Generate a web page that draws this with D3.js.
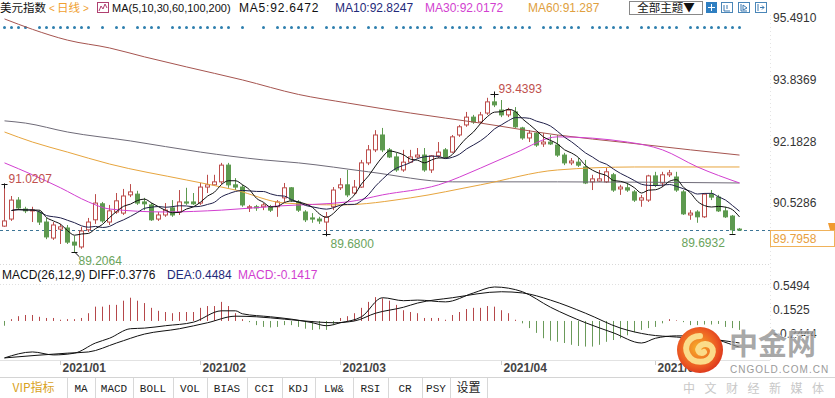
<!DOCTYPE html>
<html><head><meta charset="utf-8">
<script src="https://cdn.jsdelivr.net/npm/d3@7"></script>
<style>
body{margin:0;background:#fff;}
svg{display:block;font-family:"Liberation Sans",Arial,sans-serif;}
</style>
</head><body>
<svg id="c" width="835" height="398"></svg>
<script>
// ---------------- DATA ----------------
const firstDay = "2020-12-21";
const holidays = ["2020-12-25", "2021-01-01"];
const monthLabels = ["2021/01", "2021/02", "2021/03", "2021/04", "2021/05"];
const priceTicks = [95.4910, 93.8369, 92.1828, 90.5286];
const lastPrice = 89.7958;
const macdTicks = [0.5494, 0.1525, -0.2444];

const open = [
89.90, 90.09, 90.60, 90.36, 90.31, 90.28, 90.01, 89.58, 89.82, 89.85,
89.47, 89.34, 89.80, 90.07, 90.50, 90.01, 90.28, 90.25, 90.74, 90.76,
90.55, 90.47, 90.09, 90.20, 90.39, 90.28, 90.55, 90.55, 90.52, 90.95,
91.01, 91.09, 91.54, 91.01, 90.95, 90.39, 90.42, 90.42, 90.42, 90.42,
90.66, 90.93, 90.55, 90.28, 90.12, 90.09, 90.01, 90.42, 90.93, 91.01,
90.79, 90.95, 91.60, 91.95, 92.35, 91.95, 91.76, 91.41, 91.62, 91.76,
91.81, 91.41, 91.79, 91.95, 91.89, 92.35, 92.62, 92.83, 92.70, 92.94,
93.24, 93.02, 92.89, 92.97, 92.54, 92.27, 92.40, 92.11, 92.16, 92.08,
91.81, 91.60, 91.62, 91.49, 91.09, 91.11, 91.09, 91.28, 90.90, 90.93,
90.82, 90.60, 90.60, 91.25, 91.06, 91.28, 91.22, 90.82, 90.20, 90.28,
90.15, 90.76, 90.68, 90.31, 90.17, 89.82];
const high = [
91.0207, 90.71, 90.68, 90.42, 90.42, 90.33, 90.12, 90.01, 89.96, 89.93,
89.64, 89.88, 90.12, 90.76, 90.55, 90.47, 90.79, 90.90, 91.03, 90.85,
90.66, 90.52, 90.28, 90.52, 90.60, 90.87, 90.93, 90.79, 91.06, 91.28,
91.28, 91.60, 91.60, 91.19, 91.01, 90.47, 90.47, 90.52, 90.47, 90.60,
91.06, 90.95, 90.60, 90.33, 90.25, 90.15, 90.28, 90.95, 91.19, 91.41,
91.14, 91.68, 92.08, 92.48, 92.54, 92.00, 91.87, 91.95, 91.95, 92.00,
92.00, 91.81, 92.16, 92.00, 92.35, 92.62, 92.97, 92.89, 92.97, 93.35,
93.4393, 93.29, 93.08, 93.10, 92.57, 92.48, 92.43, 92.40, 92.35, 92.35,
91.87, 91.73, 91.73, 91.68, 91.28, 91.41, 91.46, 91.33, 91.01, 91.06,
90.87, 90.74, 91.28, 91.36, 91.36, 91.41, 91.36, 90.87, 90.33, 90.33,
90.79, 90.87, 90.74, 90.42, 90.20, 89.85];
const low = [
89.88, 90.04, 90.33, 90.25, 90.01, 89.93, 89.55, 89.53, 89.42, 89.42,
89.2064, 89.29, 89.74, 89.96, 89.99, 89.93, 90.23, 90.20, 90.68, 90.47,
90.33, 90.04, 90.04, 90.15, 90.15, 90.20, 90.47, 90.47, 90.47, 90.79,
90.98, 91.03, 90.93, 90.87, 90.42, 90.28, 90.31, 90.33, 90.28, 90.15,
90.55, 90.55, 90.28, 90.01, 89.99, 89.96, 89.68, 90.33, 90.87, 90.68,
90.74, 90.93, 91.54, 91.89, 91.89, 91.73, 91.36, 91.36, 91.60, 91.73,
91.36, 91.33, 91.73, 91.73, 91.87, 92.30, 92.57, 92.65, 92.67, 92.89,
93.10, 92.83, 92.83, 92.54, 92.22, 92.16, 92.03, 92.03, 92.08, 91.76,
91.54, 91.54, 91.49, 91.03, 90.87, 91.09, 91.06, 90.82, 90.74, 90.82,
90.55, 90.42, 90.55, 90.95, 90.95, 91.22, 90.82, 90.20, 90.07, 89.99,
90.12, 90.60, 90.28, 90.12, 89.6932, 89.77];
const close = [
90.04, 90.60, 90.39, 90.31, 90.33, 90.01, 89.61, 89.93, 89.88, 89.47,
89.39, 89.77, 90.01, 90.52, 90.04, 90.31, 90.58, 90.71, 90.82, 90.52,
90.50, 90.07, 90.20, 90.33, 90.20, 90.55, 90.52, 90.50, 90.95, 91.01,
91.09, 91.54, 91.01, 90.95, 90.47, 90.42, 90.39, 90.47, 90.33, 90.55,
90.93, 90.60, 90.33, 90.07, 90.09, 90.04, 90.15, 90.87, 91.01, 90.74,
90.95, 91.60, 91.95, 92.35, 91.95, 91.76, 91.41, 91.62, 91.76, 91.81,
91.41, 91.79, 91.89, 91.76, 92.30, 92.57, 92.83, 92.70, 92.89, 93.24,
93.16, 92.89, 93.02, 92.57, 92.27, 92.40, 92.08, 92.16, 92.11, 91.81,
91.60, 91.65, 91.54, 91.06, 91.17, 91.17, 91.36, 90.87, 90.95, 90.87,
90.60, 90.66, 91.25, 91.01, 91.28, 91.33, 90.87, 90.23, 90.25, 90.15,
90.76, 90.68, 90.31, 90.15, 89.80, 89.7958];

// long moving averages: [bar index, value]
const ma200 = [[0,95.47],[4,95.19],[9,94.90],[15,94.69],[20,94.45],[26,94.18],[34,93.83],[42,93.44],[49,93.21],[58,92.94],[68,92.67],[79,92.35],[89,92.14],[98,91.95],[105,91.81]];
const ma100 = [[0,92.73],[3,92.67],[9,92.43],[18,92.19],[28,91.89],[37,91.68],[42,91.60],[52,91.36],[64,91.09],[79,91.09],[105,91.06]];
const ma60 = [[0,92.43],[4,92.16],[9,91.89],[15,91.57],[26,91.14],[33,90.87],[40,90.52],[48,90.47],[58,90.66],[68,91.01],[79,91.41],[90,91.49],[105,91.49]];
const ma30 = [[0,91.60],[4,91.28],[8,90.93],[12,90.55],[15,90.36],[23,90.28],[31,90.33],[39,90.44],[49,90.55],[54,90.74],[62,91.01],[68,91.46],[73,91.87],[79,92.30],[89,92.16],[94,91.95],[99,91.49],[105,91.06]];

// MACD panel
const macdHist = [
-0.08, 0.03, 0.08, 0.10, 0.10, 0.07, 0.05, 0.05, 0.02, 0.03,
0.03, 0.05, 0.13, 0.24, 0.24, 0.27, 0.27, 0.34, 0.39, 0.34,
0.30, 0.22, 0.17, 0.15, 0.13, 0.15, 0.15, 0.15, 0.22, 0.25,
0.25, 0.32, 0.25, 0.13, 0.03, -0.02, -0.07, -0.10, -0.11, -0.10,
-0.07, -0.07, -0.10, -0.13, -0.15, -0.14, -0.15, -0.07, 0.05, 0.08,
0.13, 0.22, 0.32, 0.40, 0.38, 0.34, 0.27, 0.18, 0.15, 0.13,
0.05, 0.05, 0.05, 0.02, 0.10, 0.15, 0.20, 0.22, 0.22, 0.25,
0.24, 0.18, 0.13, 0.02, -0.04, -0.12, -0.20, -0.29, -0.33, -0.35,
-0.37, -0.40, -0.42, -0.43, -0.43, -0.40, -0.35, -0.32, -0.29, -0.24,
-0.19, -0.15, -0.12, -0.10, -0.04, 0.03, 0.01, -0.02, -0.07, -0.07,
-0.06, -0.06, -0.05, -0.10, -0.12, -0.15];
const diffLine = [[0,-0.62],[4,-0.52],[7,-0.57],[10,-0.54],[13,-0.37],[15,-0.29],[18,-0.13],[20,-0.12],[23,-0.08],[27,-0.02],[31,0.17],[33,0.17],[34,0.12],[38,0.07],[41,0.03],[44,-0.03],[46,-0.08],[48,-0.03],[51,0.07],[54,0.39],[57,0.34],[59,0.35],[63,0.32],[67,0.47],[70,0.57],[72,0.55],[74,0.49],[78,0.23],[83,-0.03],[87,-0.20],[91,-0.37],[93,-0.29],[96,-0.25],[99,-0.25],[104,-0.40],[105,-0.44]];
const deaLine = [[0,-0.62],[9,-0.54],[12,-0.52],[16,-0.37],[20,-0.22],[25,-0.13],[29,-0.03],[33,0.08],[36,0.07],[40,0.03],[45,-0.02],[47,-0.03],[50,0.00],[53,0.13],[57,0.23],[59,0.30],[64,0.39],[71,0.49],[74,0.47],[78,0.35],[83,0.13],[88,-0.12],[92,-0.23],[96,-0.27],[102,-0.32],[105,-0.37]];

// event markers row (bar indices)
const eventBars = [0,1,2,3,5,6,7,8,9,10,11,12,14,16,17,19,20,21,22,24,25,26,27,28,29,30,31,32,34,37,39,40,41,
42,43,44,46,47,48,49,50,52,53,54,56,57,58,59,60,61,63,64,65,66,67,68,70,71,72,73,74,75,77,78,79,80,81,82,84,85,86,87,88,89,91,92,93,94,95,96,98,99,100,101,102,103,104,105];

const toolButtons = ["VIP指标","MA","MACD","BOLL","VOL","BIAS","CCI","KDJ","LW&","RSI","CR","PSY","设置"];

// ---------------- build categories ----------------
const dates = [];
{
  let d = new Date(firstDay + "T00:00:00Z");
  while (dates.length < close.length) {
    const s = d.toISOString().slice(0,10);
    const wd = d.getUTCDay();
    if (wd !== 0 && wd !== 6 && !holidays.includes(s)) dates.push(s);
    d = new Date(d.getTime() + 86400000);
  }
}

// ---------------- scales ----------------
const svg = d3.select("#c");
const x = d3.scaleBand().domain(d3.range(close.length)).range([0.5, 742.5]).padding(0);
const cx = i => Math.round(x(i) + x.bandwidth()/2) + 0.5;
const y = d3.scaleLinear().domain([88.75, 95.60]).range([268.9, 14.1]);
const ym = d3.scaleLinear().domain([-0.65, 0.62]).range([359.7, 284.0]);

const UP = "#bc4d4b", DOWN = "#5d9a4f";

// ---------------- main panel ----------------
const defs = svg.append("defs");
defs.append("clipPath").attr("id","mainClip").append("rect").attr("x",0).attr("y",15).attr("width",770).attr("height",249);
defs.append("clipPath").attr("id","macdClip").append("rect").attr("x",0).attr("y",282).attr("width",770).attr("height",78);

// faint borders
svg.append("line").attr("x1",0).attr("x2",770).attr("y1",264.5).attr("y2",264.5).attr("stroke","#d8d8d8").attr("stroke-dasharray","1,2");
svg.append("line").attr("x1",0).attr("x2",770).attr("y1",284.5).attr("y2",284.5).attr("stroke","#e0e0e0").attr("stroke-dasharray","1,2");
svg.append("line").attr("x1",770.5).attr("x2",770.5).attr("y1",15).attr("y2",360).attr("stroke","#e4e4e4").attr("stroke-dasharray","1,3");
svg.append("line").attr("x1",0).attr("x2",770).attr("y1",360.5).attr("y2",360.5).attr("stroke","#e2e2e2");

const main = svg.append("g").attr("clip-path","url(#mainClip)");

// event dots
main.selectAll("circle.ev").data(eventBars).join("circle")
  .attr("cx", i => cx(i)).attr("cy", 27.5).attr("r", 1.5).attr("fill", "#2e7fae");

// last price dashed line
main.append("line").attr("x1",0).attr("x2",770).attr("y1",Math.round(y(lastPrice))+0.5).attr("y2",Math.round(y(lastPrice))+0.5)
  .attr("stroke","#3d7596").attr("stroke-dasharray","3,3");

// candles
const idx = d3.range(close.length);
const cg = main.append("g");
cg.selectAll("line.wick").data(idx).join("line")
  .attr("x1", cx).attr("x2", cx)
  .attr("y1", i => y(high[i])).attr("y2", i => y(low[i]))
  .attr("stroke", i => close[i] >= open[i] ? UP : DOWN);
cg.selectAll("rect.body").data(idx).join("rect")
  .attr("x", i => cx(i) - 2).attr("width", 4)
  .attr("y", i => Math.min(y(open[i]), y(close[i])))
  .attr("height", i => Math.max(0.8, Math.abs(y(open[i]) - y(close[i]))))
  .attr("fill", i => close[i] >= open[i] ? "#fff" : DOWN)
  .attr("stroke", i => close[i] >= open[i] ? UP : DOWN);

// moving averages
const lineGen = d3.line().x(d => cx(d[0])).y(d => y(d[1])).curve(d3.curveMonotoneX);
function sma(n){ return idx.slice(1).map(i => [i, d3.mean(close.slice(Math.max(0, i-n+1), i+1))]); }
const maDefs = [
  [ma200, "#a65550"], [ma100, "#6f6b78"], [ma60, "#e7a53e"], [ma30, "#d23fd0"],
  [sma(10), "#20204a"], [sma(5), "#111"]
];
maDefs.forEach(([d, c]) => main.append("path").datum(d).attr("d", lineGen).attr("fill","none").attr("stroke", c).attr("stroke-width", 1));

// extreme markers
function cross(i, v, w){
  const g = main.append("g").attr("stroke","#111");
  g.append("line").attr("x1", cx(i)-w).attr("x2", cx(i)+w).attr("y1", Math.round(y(v))+0.5).attr("y2", Math.round(y(v))+0.5);
  return g;
}
const iHi0 = 0, iLo0 = 10, iLo1 = 46, iHi1 = 70, iLo2 = 104;
cross(iHi0, high[iHi0], 3).append("line").attr("x1",cx(iHi0)).attr("x2",cx(iHi0)).attr("y1",y(high[iHi0])-1).attr("y2",y(high[iHi0])+4);
cross(iHi1, high[iHi1], 4).append("line").attr("x1",cx(iHi1)).attr("x2",cx(iHi1)).attr("y1",y(high[iHi1])-3).attr("y2",y(high[iHi1])+3);
cross(iLo1, low[iLo1], 4).append("line").attr("x1",cx(iLo1)).attr("x2",cx(iLo1)).attr("y1",y(low[iLo1])-3).attr("y2",y(low[iLo1])+2);
cross(iLo0, low[iLo0], 3).append("line").attr("x1",cx(iLo0)).attr("x2",cx(iLo0)+5).attr("y1",y(low[iLo0])).attr("y2",y(low[iLo0])+5);
cross(iLo2, low[iLo2], 3);

const fmt4 = d3.format(".4f");
const lab = svg.append("g").attr("font-size", 12);
lab.append("text").attr("x", cx(iHi0)+4).attr("y", y(high[iHi0])-6).attr("dy","0.35em").attr("fill","#c0504d").text(fmt4(high[iHi0]));
lab.append("text").attr("x", cx(iHi1)+4).attr("y", y(high[iHi1])-6).attr("dy","0.35em").attr("fill","#c0504d").text(fmt4(high[iHi1]));
lab.append("text").attr("x", cx(iLo1)+4).attr("y", y(low[iLo1])+9).attr("dy","0.35em").attr("fill","#6aa35c").text(fmt4(low[iLo1]));
lab.append("text").attr("x", cx(iLo2)-51).attr("y", y(low[iLo2])+9).attr("dy","0.35em").attr("fill","#6aa35c").text(fmt4(low[iLo2]));
lab.append("text").attr("x", cx(iLo0)+4).attr("y", y(low[iLo0])+9).attr("dy","0.35em").attr("fill","#6aa35c").text(fmt4(low[iLo0]));

// right axis
const ax = svg.append("g").attr("transform","translate(770,0)")
  .call(d3.axisRight(y).tickValues(priceTicks).tickFormat(fmt4).tickSize(0).tickPadding(3));
ax.select(".domain").remove();
ax.selectAll("text").attr("font-size",12).attr("fill","#333").attr("font-family","Liberation Sans, Arial, sans-serif");

// last price box
const lp = Math.round(y(lastPrice));
svg.append("rect").attr("x",770.5).attr("y",lp+0.5).attr("width",64).attr("height",16).attr("fill","#fff").attr("stroke","#f0b25a");
svg.append("text").attr("x",773).attr("y",lp+9).attr("dy","0.35em").attr("font-size",12).attr("fill","#e8a040").text(fmt4(lastPrice));
svg.append("path").attr("d",`M828,${lp-7} L835,${lp-7} L835,${lp} L830,${lp} Z`).attr("fill","#f09a30");

// ---------------- MACD panel ----------------
svg.append("rect").attr("x",0).attr("y",266).attr("width",770).attr("height",16).attr("fill","#fff");
const mt = svg.append("text").attr("x",2).attr("y",275).attr("dy","0.35em").attr("font-size",12);
mt.append("tspan").attr("fill","#111").text("MACD(26,12,9) DIFF:0.3776");
mt.append("tspan").attr("x",167).attr("fill","#1f2a7a").text("DEA:0.4484");
mt.append("tspan").attr("x",238).attr("fill","#d23fd0").text("MACD:-0.1417");

const mg = svg.append("g").attr("clip-path","url(#macdClip)");
mg.selectAll("line.h").data(idx).join("line")
  .attr("x1", cx).attr("x2", cx)
  .attr("y1", ym(0)).attr("y2", i => ym(macdHist[i]))
  .attr("stroke", i => macdHist[i] >= 0 ? "#b5474a" : "#6a9a5a");
const mline = d3.line().x(d => cx(d[0])).y(d => ym(d[1])).curve(d3.curveMonotoneX);
mg.append("path").datum(deaLine).attr("d", mline).attr("fill","none").attr("stroke","#111");
mg.append("path").datum(diffLine).attr("d", mline).attr("fill","none").attr("stroke","#111");

macdTicks.forEach(v => svg.append("text").attr("x",773).attr("y",ym(v)-2).attr("dy","0.35em").attr("font-size",12).attr("fill","#333").text(fmt4(v)));

// date axis
const monthStarts = idx.filter(i => i > 0 && dates[i].slice(5,7) !== dates[i-1].slice(5,7));
monthStarts.forEach((i, k) => {
  svg.append("line").attr("x1", cx(i)).attr("x2", cx(i)).attr("y1",361).attr("y2",365).attr("stroke","#ccc");
  svg.append("text").attr("x", cx(i)+2).attr("y",368).attr("dy","0.35em").attr("font-size",12).attr("font-weight","bold").attr("fill","#444").text(monthLabels[k]);
});

// ---------------- watermark ----------------
const grad = defs.append("radialGradient").attr("id","lg").attr("cx","45%").attr("cy","45%").attr("r","60%");
grad.append("stop").attr("offset","0%").attr("stop-color","#f7b02a");
grad.append("stop").attr("offset","70%").attr("stop-color","#ec5a22");
grad.append("stop").attr("offset","100%").attr("stop-color","#d9301c");
const wm = svg.append("g");
wm.append("circle").attr("cx",700).attr("cy",350).attr("r",23).attr("fill","url(#lg)");
wm.append("path").attr("d","M700,336 C689,336 683,346 688,355 C693,364 708,364 712,355 C716,346 706,341 700,346 C696,350 700,355 704,352")
  .attr("fill","none").attr("stroke","#fbdc8a").attr("stroke-width",6).attr("stroke-linecap","round");
wm.append("text").attr("x",729).attr("y",345).attr("dy","0.35em").attr("font-size",29).attr("font-weight","bold")
  .attr("font-family","Noto Sans CJK SC").attr("fill","#8c8c8c").attr("fill-opacity",0.75)
  .attr("stroke","#fff").attr("stroke-width",1).attr("paint-order","stroke").text("中金网");
wm.append("text").attr("x",730).attr("y",369).attr("dy","0.35em").attr("font-size",10).attr("letter-spacing",1)
  .attr("fill","#9a9a9a").text("CNGOLD.COM.CN");

// ---------------- toolbar ----------------
const bounds = [0,67,95,133,173,207,247,282,315,353,388,422,450,487];
const tb = svg.append("g");
tb.append("line").attr("x1",0).attr("x2",835).attr("y1",377.5).attr("y2",377.5).attr("stroke","#d4d4d4");
toolButtons.forEach((t, k) => {
  const x0 = bounds[k], x1 = bounds[k+1];
  tb.append("line").attr("x1",x1+0.5).attr("x2",x1+0.5).attr("y1",378).attr("y2",398).attr("stroke","#d8d8d8");
  tb.append("text").attr("x",(x0+x1)/2).attr("y",388).attr("dy","0.35em").attr("text-anchor","middle")
    .attr("font-size", /[\u4e00-\u9fff]/.test(t) ? 12 : 11)
    .attr("font-family", /[\u4e00-\u9fff]/.test(t) ? "Noto Sans CJK SC" : "Liberation Mono, monospace")
    .attr("fill", k === 0 ? "#d9a21c" : "#222").text(t);
});
svg.append("text").attr("x",683).attr("y",389).attr("dy","0.35em").attr("font-size",12).attr("letter-spacing",9.5)
  .attr("font-family","Noto Sans CJK SC").attr("fill","#c8c8c8").text("中文财经新媒体");

// ---------------- top legend ----------------
const LY = 8;
const tl = svg.append("g").attr("font-size",12);
tl.append("text").attr("x",0).attr("y",LY).attr("dy","0.35em").attr("font-size",11.5).attr("font-family","Noto Sans CJK SC").attr("fill","#111").text("美元指数");
tl.append("text").attr("x",49).attr("y",LY).attr("dy","0.35em").attr("fill","#f0a030").attr("font-size",10).text("<");
tl.append("text").attr("x",57).attr("y",LY).attr("dy","0.35em").attr("font-size",11.5).attr("font-family","Noto Sans CJK SC").attr("fill","#f0a030").text("日线");
tl.append("text").attr("x",83).attr("y",LY).attr("dy","0.35em").attr("fill","#f0a030").attr("font-size",10).text(">");
tl.append("rect").attr("x",97.5).attr("y",2.5).attr("width",11).attr("height",10).attr("fill","#fff").attr("stroke","#b04070");
tl.append("polyline").attr("points","99,11 101,6 103,9 105,4 107,8").attr("fill","none").attr("stroke","#b04070");
tl.append("text").attr("x",112).attr("y",LY).attr("dy","0.35em").attr("font-size",11).attr("fill","#111").text("MA(5,10,30,60,100,200)");
tl.append("text").attr("x",239).attr("y",LY).attr("dy","0.35em").attr("letter-spacing",0.8).attr("fill","#111").text("MA5:92.6472");
tl.append("text").attr("x",335).attr("y",LY).attr("dy","0.35em").attr("fill","#1f2a7a").text("MA10:92.8247");
tl.append("text").attr("x",425).attr("y",LY).attr("dy","0.35em").attr("fill","#d23fd0").text("MA30:92.0172");
tl.append("text").attr("x",528).attr("y",LY).attr("dy","0.35em").attr("fill","#e0a040").text("MA60:91.287");
tl.append("rect").attr("x",629.5).attr("y",1.5).attr("width",73).attr("height",13).attr("fill","#fff").attr("stroke","#888");
tl.append("text").attr("x",666).attr("y",LY).attr("dy","0.35em").attr("text-anchor","middle").attr("font-size",11.5).attr("font-family","Noto Sans CJK SC").attr("fill","#111").text("全部主题▼");
tl.append("rect").attr("x",706).attr("y",2).attr("width",11).attr("height",11).attr("fill","#2f7fc1");
tl.append("path").attr("d","M711.5,4 V11 M708,7.5 H715").attr("stroke","#fff");
[721, 738, 755].forEach((bx, k) => {
  tl.append("rect").attr("x",bx+0.5).attr("y",2.5).attr("width",11).attr("height",10).attr("fill","#fff").attr("stroke","#4a86b8");
  tl.append("path").attr("d", k===0 ? `M${bx+3},5 V11 H${bx+9} M${bx+6},5 V9` : k===1 ? `M${bx+3},4 V11 H${bx+9} M${bx+5},5 L${bx+9},8 L${bx+5},10 Z` : `M${bx+3},4 V11 M${bx+5},7.5 H${bx+9} M${bx+7},5.5 L${bx+9},7.5 L${bx+7},9.5`)
    .attr("fill","none").attr("stroke","#3a78b0");
});
</script>
</body></html>
